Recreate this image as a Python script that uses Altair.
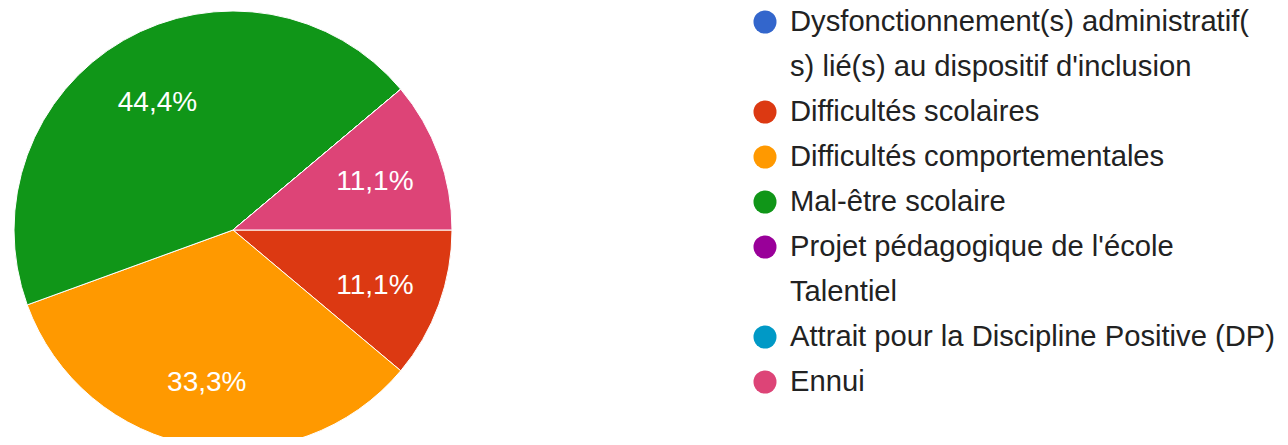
import math
import altair as alt
import pandas as pd

categories = [
    "Dysfonctionnement(s) administratif(\ns) lié(s) au dispositif d'inclusion",
    "Difficultés scolaires",
    "Difficultés comportementales",
    "Mal-être scolaire",
    "Projet pédagogique de l'école\nTalentiel",
    "Attrait pour la Discipline Positive (DP)",
    "Ennui",
]
counts = [0, 1, 3, 4, 0, 0, 1]
colors = ["#3366cc", "#dc3912", "#ff9900", "#109618", "#990099", "#0099c6", "#dd4477"]

FONT = "Liberation Sans"
total = sum(counts)
keys = [c.replace("\n", " ") for c in categories]

rows = []
lines = []
r = 0
for i, (cat, n) in enumerate(zip(categories, counts)):
    pct = f"{n / total * 100:.1f}".replace(".", ",") + "%"
    rows.append({"idx": i, "key": keys[i], "count": n, "pct": pct, "row": r})
    for ln in cat.split("\n"):
        lines.append({"line": ln, "row": r})
        r += 1
df = pd.DataFrame(rows)
df_lines = pd.DataFrame(lines)

theta_scale = alt.Scale(range=[math.pi / 2, math.pi / 2 + 2 * math.pi])
color_scale = alt.Scale(domain=keys, range=colors)
y_scale = alt.Scale(domain=[0, 8], range=[14, 374])

CX, CY = 225, 222

arcs = alt.Chart(df).mark_arc(radius=219, stroke="white", strokeWidth=1).encode(
    theta=alt.Theta("count:Q", stack=True, scale=theta_scale),
    color=alt.Color("key:N", scale=color_scale, legend=None),
    order=alt.Order("idx:Q"),
    x=alt.value(CX),
    y=alt.value(CY),
)

labels = alt.Chart(df).transform_filter("datum.count > 0").mark_text(
    radius=151, dy=4, fontSize=28, color="white", font=FONT
).encode(
    theta=alt.Theta("count:Q", stack=True, scale=theta_scale),
    text="pct:N",
    order=alt.Order("idx:Q"),
    x=alt.value(CX),
    y=alt.value(CY),
)

leg_pts = alt.Chart(df).mark_circle(size=530, opacity=1).encode(
    x=alt.value(757),
    y=alt.Y("row:Q", scale=y_scale, axis=None),
    color=alt.Color("key:N", scale=color_scale, legend=None),
)

leg_txt = alt.Chart(df_lines).mark_text(
    align="left", baseline="middle", fontSize=29.2, color="#222222", font=FONT
).encode(
    x=alt.value(782),
    y=alt.Y("row:Q", scale=y_scale, axis=None),
    text="line:N",
)

chart = alt.layer(arcs, labels, leg_pts, leg_txt).properties(
    width=1272, height=429, padding=0, autosize=alt.AutoSizeParams(type="none")
).configure_view(stroke=None)

chart.save("out.html", embed_options={"renderer": "svg", "actions": False})
